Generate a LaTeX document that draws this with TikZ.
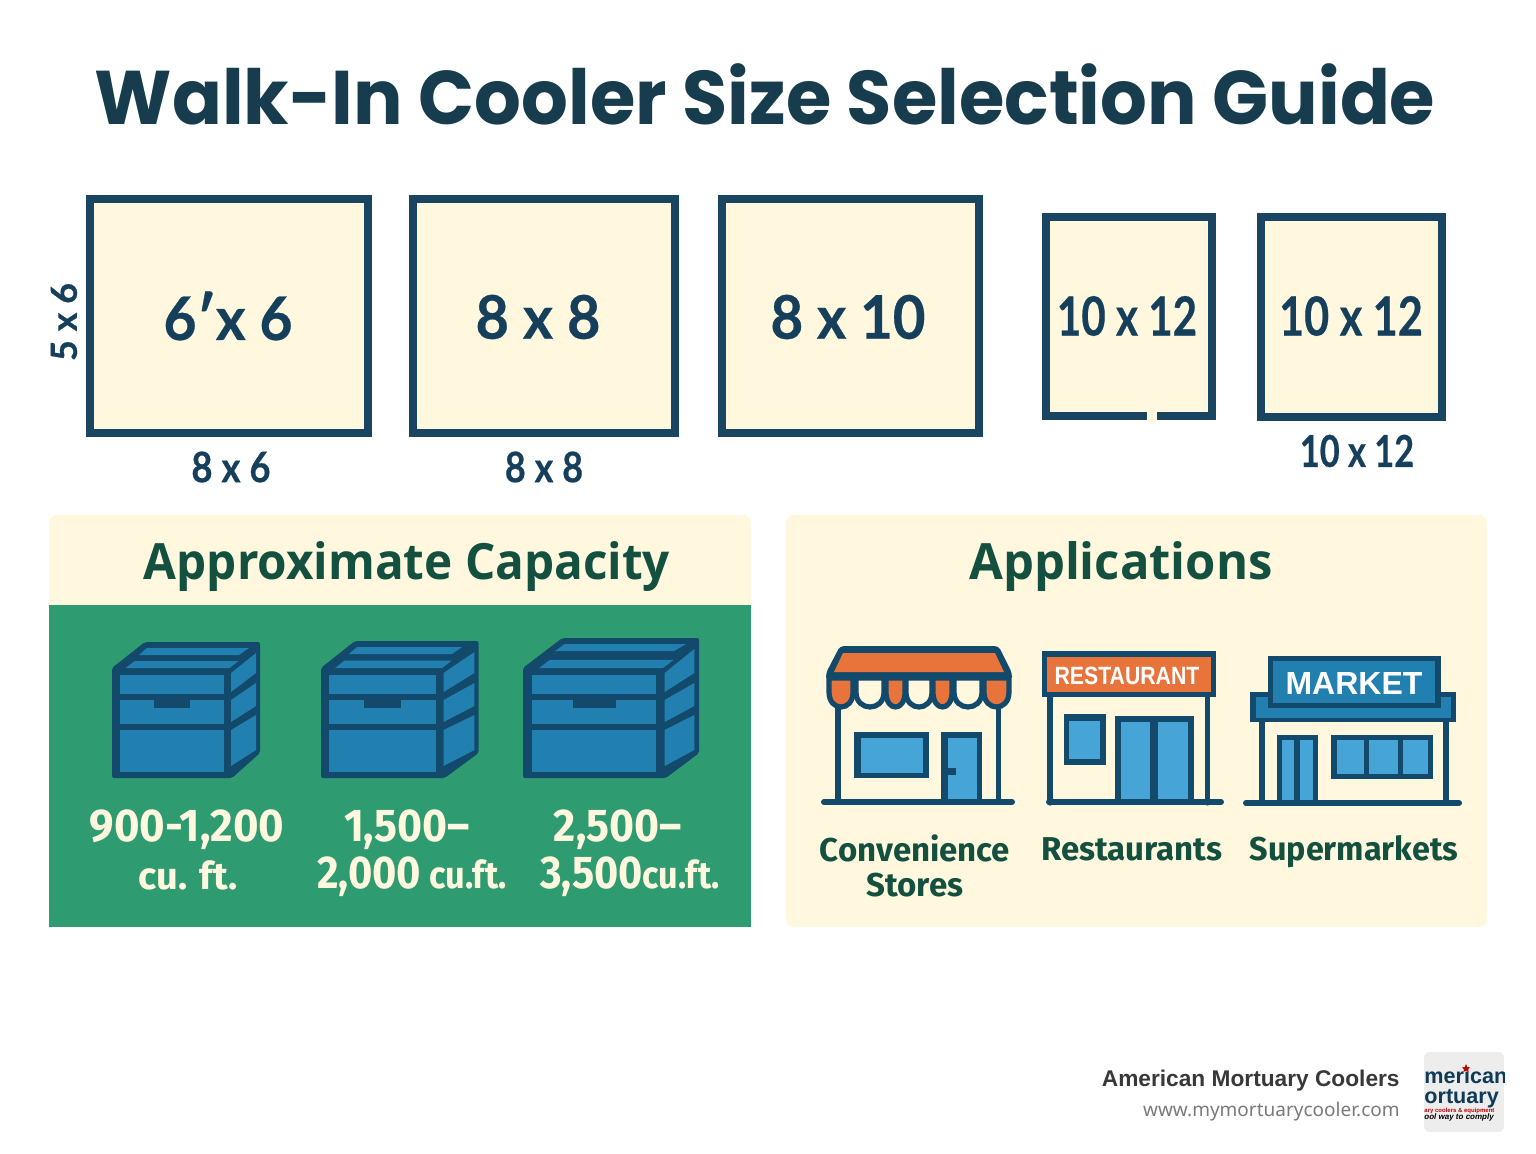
\documentclass[tikz,border=0pt]{standalone}
\usepackage{fontspec}
\usepackage{graphicx}
\setmainfont{Open Sans}
\newfontfamily\titlef{Poppins}
\newfontfamily\headf{Fira Sans}
\newfontfamily\headg{Open Sans}
\newfontfamily\dimf{Lato}[BoldFeatures={FakeBold=0.5}]
\newfontfamily\footf{Liberation Sans}
\newfontfamily\footr{Noto Sans}
\definecolor{navy}{HTML}{134A6B}
\definecolor{roomc}{HTML}{1A4560}
\definecolor{titlec}{HTML}{163C4D}
\definecolor{cream}{HTML}{FFF8DF}
\definecolor{grn}{HTML}{2E9B70}
\definecolor{chestb}{HTML}{2280B0}
\definecolor{lblue}{HTML}{46A5D6}
\definecolor{orng}{HTML}{E8743B}
\definecolor{headc}{HTML}{14503F}
\definecolor{dimc}{HTML}{153F5A}
\newcommand{\fsz}[1]{\fontsize{#1}{#1}\selectfont}
\newcommand{\sx}[2]{\scalebox{#1}[1]{#2}}
\newcommand{\rr}[5]{\fill[#5] (#1,#2) rectangle (#3,#4);}
\newcommand{\chest}[6]{% x, y, xscale, yscale, extra depth x, extra depth y
\begin{scope}[shift={(#1,#2)},xscale=#3,yscale=#4]
\fill[navy,rounded corners=1pt] (0,0) -- (33,-26-#6) -- (148+#5,-26-#6) -- (148+#5,85) -- (120,110) -- (0,110) -- cycle;
\fill[chestb] (7.5,7) rectangle (112,26);
\fill[chestb] (7.5,32) rectangle (112,56);
\fill[chestb] (7.5,62) rectangle (112,104);
\fill[navy] (42,32) rectangle (78,40);
\fill[chestb] (119,5) -- (144+#5,-15-#6) -- (144+#5,5) -- (119,24) -- cycle;
\fill[chestb] (119,32) -- (144+#5,15) -- (144+#5,38) -- (119,54) -- cycle;
\fill[chestb] (119,62) -- (144+#5,47) -- (144+#5,82) -- (119,98) -- cycle;
\fill[chestb] (35,-20-#6) -- (137,-20-#6) -- (127,-13-#6) -- (27,-13-#6) -- cycle;
\fill[chestb] (22.6,-7-#6*0.3) -- (126.6,-7-#6*0.3) -- (117.7,0) -- (13.7,0) -- cycle;
\end{scope}}
\tikzset{
  wall/.style={draw=navy,line width=2.6pt,line cap=round},
  ground/.style={draw=navy,line width=3pt,line cap=round},
  dimtext/.style={text=dimc,inner sep=0pt},
  headtext/.style={text=headc,font=\headg\bfseries\fsz{25},inner sep=0pt},
  captext/.style={text=cream,font=\headf\bfseries,inner sep=0pt,align=center},
  apptext/.style={text=headc,font=\headf\bfseries\fsz{16.5},inner sep=0pt,align=center},
}
\begin{document}
\begin{tikzpicture}[x=0.5pt,y=-0.5pt]
\useasboundingbox (0,0) rectangle (1536,1154);
\fill[white] (0,0) rectangle (1536,1154);
% title
\node[inner sep=0pt,text=titlec] (title) at (765,94) {\titlef\bfseries\fsz{38}\sx{0.968}{Walk-In Cooler Size Selection Guide}};
% rooms
\tikzset{room/.style={draw=roomc,fill=cream,line width=4pt}}
\draw[room] (90,199) rectangle (368,433);
\draw[room] (413,199) rectangle (675,433);
\draw[room] (722,199) rectangle (979,433);
\draw[room] (1046,217) rectangle (1212,416);
\fill[cream] (1147,411) rectangle (1157,422);
\draw[room] (1261,217) rectangle (1442,417);
\node[dimtext,font=\dimf\bfseries\fsz{30}] (d1) at (228,316) {\sx{0.95}{6′x 6}};
\node[dimtext,font=\dimf\bfseries\fsz{30}] (d2) at (538,317) {\sx{0.96}{8 x 8}};
\node[dimtext,font=\dimf\bfseries\fsz{30}] (d3) at (848,317) {\sx{0.94}{8 x 10}};
\node[dimtext,font=\dimf\bfseries\fsz{27}] (d4) at (1127,316) {\sx{0.78}{10 x 12}};
\node[dimtext,font=\dimf\bfseries\fsz{27}] (d5) at (1351,316) {\sx{0.8}{10 x 12}};
\node[dimtext,font=\dimf\bfseries\fsz{21}] (d6) at (231,467) {\sx{0.87}{8 x 6}};
\node[dimtext,font=\dimf\bfseries\fsz{21}] (d7) at (544,467) {\sx{0.86}{8 x 8}};
\node[dimtext,font=\dimf\bfseries\fsz{22}] (d8) at (1357,451) {\sx{0.78}{10 x 12}};
\node[dimtext,font=\dimf\bfseries\fsz{18},rotate=90] (d9) at (64,322) {5 x 6};
% panels
\fill[cream,rounded corners=4pt] (49,515) rectangle (751,620);
\fill[grn] (49,605) rectangle (751,927);
\fill[cream,rounded corners=4pt] (786,515) rectangle (1487,927);
\node[headtext] (h1) at (407,567) {\sx{0.953}{Approximate Capacity}};
\node[headtext] (h2) at (1121,567) {\sx{0.98}{Applications}};
% chests
\chest{112}{668}{1}{1}{0}{0}
\chest{321}{668}{1.03}{1}{5}{1}
\chest{523}{668}{1.19}{1}{0}{4}
% capacity text
\node[captext,font=\headf\bfseries\fsz{23}] (c1a) at (187,830) {\sx{0.95}{900-1,200}};
\node[captext,font=\headf\bfseries\fsz{19}] (c1b) at (188,875) {cu. ft.};
\node[captext,font=\headf\bfseries\fsz{23}] (c2a) at (407,830) {\sx{0.93}{1,500–}};
\node[captext] (c2b) at (412,877) {\sx{0.905}{\fsz{23}2,000\fsz{19} cu.ft.}};
\node[captext,font=\headf\bfseries\fsz{23}] (c3a) at (618,830) {\sx{0.93}{2,500–}};
\node[captext] (c3b) at (630,877) {\sx{0.9}{\fsz{23}3,500\fsz{19}cu.ft.}};
% store 1
\draw[wall] (838,705) -- (838,800);
\draw[wall] (998.6,705) -- (998.6,800);
\fill[navy,rounded corners=2pt] (826,680) -- (826,673) -- (840,646) -- (998.6,646) -- (1012,673) -- (1012,680) -- cycle;
\fill[orng] (834,672) -- (843,653) -- (995,653) -- (1004,672) -- cycle;
\foreach \a/\b/\c in {829/853/orng,856/884/cream,886/905/orng,906/932/cream,933/952/orng,954/982/cream,984/1009/orng}{
  \fill[\c,draw=navy,line width=2.6pt] (\a,678) -- (\a,692) .. controls (\a,712) and (\b,712) .. (\b,692) -- (\b,678) -- cycle;
}
\rr{854}{732}{929}{778}{navy}
\rr{861}{738}{923}{773}{lblue}
\rr{941}{732}{982}{800}{navy}
\rr{947.5}{738}{976.5}{800}{lblue}
\rr{947}{768}{956}{775}{navy}
\coordinate (g1a) at (824,802);
\coordinate (g1b) at (1012,802);
\draw[ground] (g1a) -- (g1b);
% store 2
\draw[wall] (1050,697) -- (1050,803);
\draw[wall] (1207.6,697) -- (1207.6,803);
\rr{1042}{651}{1216}{697}{navy}
\rr{1047}{657}{1211}{692}{orng}
\node[inner sep=0pt,text=white,font=\footf\bfseries\fsz{12.5}] (rest) at (1127,676) {\sx{0.85}{RESTAURANT}};
\rr{1064}{714}{1106}{765}{navy}
\rr{1069}{721}{1100}{759}{lblue}
\rr{1115}{716}{1194}{800}{navy}
\rr{1121}{722}{1150}{800}{lblue}
\rr{1158}{722}{1188}{800}{lblue}
\coordinate (g2a) at (1049,802);
\coordinate (g2b) at (1221,802);
\draw[ground] (g2a) -- (g2b);
% store 3
\draw[wall] (1262,720) -- (1262,803);
\draw[wall] (1446,720) -- (1446,803);
\rr{1250}{692}{1456}{722}{navy}
\rr{1256}{697}{1450.5}{718}{chestb}
\rr{1267.5}{656}{1441}{708}{navy}
\rr{1273}{661}{1435}{703}{chestb}
\node[inner sep=0pt,text=white,font=\footf\bfseries\fsz{16}] (mark) at (1354,683) {MARKET};
\rr{1277}{735}{1318}{800}{navy}
\rr{1282}{740}{1294}{800}{lblue}
\rr{1300}{740}{1313}{800}{lblue}
\rr{1331}{735}{1433}{779}{navy}
\rr{1336.5}{740}{1364}{774}{lblue}
\rr{1369.4}{740}{1397.6}{774}{lblue}
\rr{1403}{740}{1428}{774}{lblue}
\coordinate (g3a) at (1246,803);
\coordinate (g3b) at (1459,803);
\draw[ground] (g3a) -- (g3b);
% app labels
\node[apptext] (a1) at (915,866) {Convenience\\[1pt]Stores};
\node[apptext,anchor=base] (a2) at (1132,860) {Restaurants};
\node[apptext,anchor=base] (a3) at (1354,860) {\sx{0.98}{Supermarkets}};
% footer
\node[anchor=east,inner sep=0pt,text=black!78,font=\footf\bfseries\fsz{11.35}] (f1) at (1400,1081) {American Mortuary Coolers};
\node[anchor=east,inner sep=0pt,text=black!52,font=\footr\fsz{9.5}] (f2) at (1400,1112) {www.mymortuarycooler.com};
% logo
\begin{scope}
\clip[rounded corners=3pt] (1424,1052) rectangle (1504,1132);
\fill[black!7] (1424,1052) rectangle (1504,1132);
\node[anchor=base west,inner sep=0pt,text=navy!80!black,font=\footf\bfseries\fsz{10.8}] (l1) at (1424,1083) {merican};
\node[anchor=base west,inner sep=0pt,text=navy!80!black,font=\footf\bfseries\fsz{10.8}] (l2) at (1424,1103) {ortuary};
\node[anchor=west,inner sep=0pt,text=red!75!black,font=\footf\bfseries\fsz{3}] (l3) at (1424,1111) {ary coolers \& equipment};
\node[anchor=west,inner sep=0pt,text=black,font=\footf\bfseries\itshape\fsz{4}] (l4) at (1424,1117) {ool way to comply};
\fill[red!75!black] (1466,1064) -- (1467.2,1067) -- (1470,1067.5) -- (1468,1069.3) -- (1468.6,1072) -- (1466,1070.6) -- (1463.4,1072) -- (1464,1069.3) -- (1462,1067.5) -- (1464.8,1067) -- cycle;
\end{scope}
\end{tikzpicture}
\end{document}
